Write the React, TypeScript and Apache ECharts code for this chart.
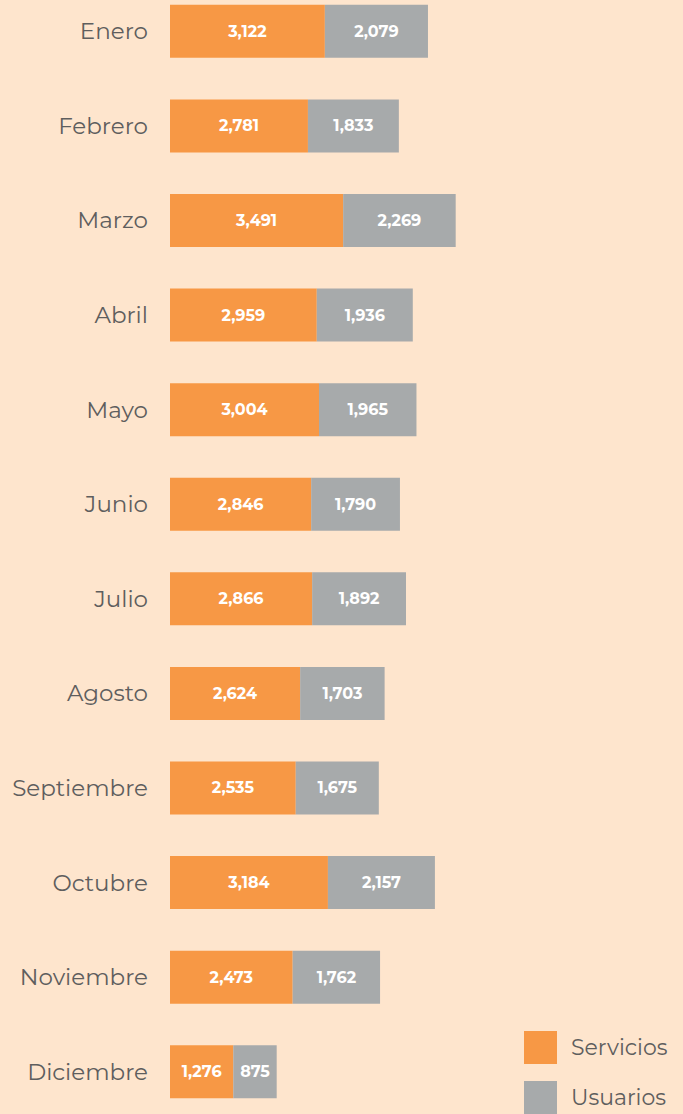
import React, { useEffect, useRef } from "react";
import * as echarts from "echarts";

const months = ["Enero", "Febrero", "Marzo", "Abril", "Mayo", "Junio", "Julio", "Agosto", "Septiembre", "Octubre", "Noviembre", "Diciembre"];
const servicios = [3122, 2781, 3491, 2959, 3004, 2846, 2866, 2624, 2535, 3184, 2473, 1276];
const usuarios = [2079, 1833, 2269, 1936, 1965, 1790, 1892, 1703, 1675, 2157, 1762, 875];

const BG = "#FEE5CD";
const ORANGE = "#F79845";
const GRAY = "#A7AAAB";
const FONT = "Montserrat, 'Open Sans', 'Noto Sans', sans-serif";

export default function App() {
  const ref = useRef<HTMLDivElement>(null);
  useEffect(() => {
    document.body.style.margin = "0";
    document.body.style.overflow = "hidden";
    document.body.style.background = BG;
    const chart = echarts.init(ref.current!, null, { renderer: "svg" });
    const fmt = (p: any) => Number(p.value).toLocaleString("en-US");
    const label = {
      show: true,
      position: "inside",
      color: "#FFFFFF",
      fontWeight: "bold",
      fontSize: 16,
      fontFamily: FONT,
      formatter: fmt,
    };
    chart.setOption({
      animation: false,
      backgroundColor: BG,
      grid: { left: 170, top: 0, width: 496, height: 1135, containLabel: false },
      xAxis: { type: "value", min: 0, max: 10000, show: false },
      yAxis: {
        type: "category",
        data: months,
        inverse: true,
        axisLine: { show: false },
        axisTick: { show: false },
        axisLabel: { color: "#5E5E5E", fontSize: 23, fontFamily: FONT, margin: 22 },
      },
      legend: {
        orient: "vertical",
        left: 524,
        top: 1047,
        padding: 0,
        itemWidth: 33,
        itemHeight: 33,
        itemGap: 17,
        icon: "rect",
        textStyle: { color: "#5E5E5E", fontSize: 22, fontFamily: FONT, padding: [0, 0, 0, 9] },
        data: ["Servicios", "Usuarios"],
      },
      series: [
        { name: "Servicios", type: "bar", stack: "t", data: servicios, barWidth: 53, itemStyle: { color: ORANGE }, label },
        { name: "Usuarios", type: "bar", stack: "t", data: usuarios, barWidth: 53, itemStyle: { color: GRAY }, label },
      ],
    });
    return () => chart.dispose();
  }, []);
  return (
    <div style={{ width: 683, height: 1114, overflow: "hidden", background: BG, position: "relative" }}>
      <div ref={ref} style={{ position: "absolute", left: 0, top: -16, width: 683, height: 1160 }} />
    </div>
  );
}
